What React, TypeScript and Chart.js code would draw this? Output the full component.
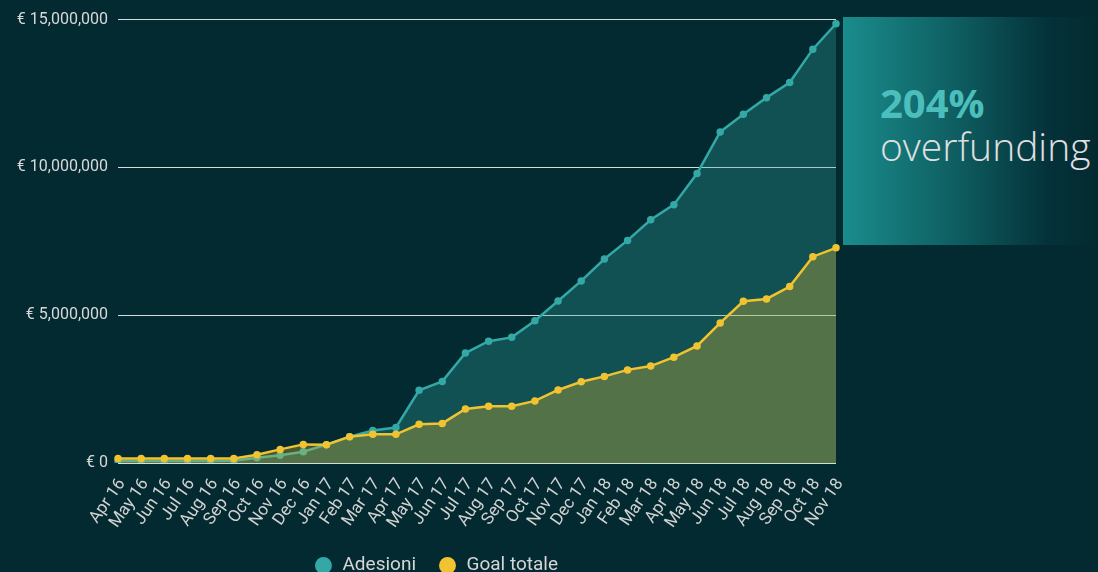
import React, { useEffect, useRef } from "react";
import { Chart, registerables } from "chart.js";

Chart.register(...registerables);

const labels = ["Apr 16","May 16","Jun 16","Jul 16","Aug 16","Sep 16","Oct 16","Nov 16","Dec 16","Jan 17","Feb 17","Mar 17","Apr 17","May 17","Jun 17","Jul 17","Aug 17","Sep 17","Oct 17","Nov 17","Dec 17","Jan 18","Feb 18","Mar 18","Apr 18","May 18","Jun 18","Jul 18","Aug 18","Sep 18","Oct 18","Nov 18"];

const adesioni = [70000,70000,70000,70000,70000,80000,180000,260000,380000,620000,890000,1100000,1200000,2460000,2760000,3720000,4120000,4250000,4810000,5480000,6160000,6900000,7530000,8230000,8740000,9790000,11200000,11800000,12360000,12870000,14000000,14860000];

const goalTotale = [150000,150000,150000,150000,150000,150000,280000,460000,630000,620000,890000,970000,970000,1310000,1340000,1830000,1920000,1920000,2100000,2470000,2750000,2930000,3150000,3280000,3580000,3960000,4740000,5470000,5550000,5970000,6980000,7280000];

const yTicks = [0, 5000000, 10000000, 15000000];

const TEAL = "#33a8a6";
const YELLOW = "#f2c330";
const BG = "#032a30";

export default function App() {
  const ref = useRef<HTMLCanvasElement>(null);
  useEffect(() => {
    document.body.style.margin = "0";
    const chart = new Chart(ref.current!, {
      type: "line",
      data: {
        labels,
        datasets: [
          {
            label: "Adesioni",
            data: adesioni,
            borderColor: TEAL,
            backgroundColor: "rgba(51,168,166,0.3)",
            pointBackgroundColor: TEAL,
            pointBorderColor: TEAL,
            borderWidth: 2.5,
            pointRadius: 2.5,
            fill: "origin",
            tension: 0,
            order: 1,
          },
          {
            label: "Goal totale",
            data: goalTotale,
            borderColor: YELLOW,
            backgroundColor: "rgba(242,195,48,0.3)",
            pointBackgroundColor: YELLOW,
            pointBorderColor: YELLOW,
            borderWidth: 2.5,
            pointRadius: 2.5,
            fill: "origin",
            tension: 0,
            order: 0,
          },
        ],
      },
      options: {
        animation: false,
        responsive: false,
        maintainAspectRatio: false,
        layout: { padding: { top: 19, left: 0, right: 0, bottom: 0 } },
        plugins: {
          tooltip: { enabled: false },
          legend: {
            position: "bottom",
            labels: {
              color: "#d6d6d6",
              font: { family: "Roboto", size: 19 },
              usePointStyle: true,
              pointStyle: "circle",
              boxWidth: 24,
              boxHeight: 12,
              padding: 22,
              generateLabels: (c: any) =>
                c.data.datasets.map((d: any, i: number) => ({
                  text: d.label,
                  fillStyle: d.borderColor,
                  strokeStyle: d.borderColor,
                  lineWidth: 0,
                  pointStyle: "circle",
                  fontColor: "#d6d6d6",
                  datasetIndex: i,
                  hidden: false,
                })),
            },
          },
        },
        scales: {
          x: {
            grid: { display: false, drawTicks: false },
            border: { display: false },
            offset: false,
            ticks: {
              color: "#d2d2d2",
              font: { family: "Roboto", size: 17 },
              minRotation: 55,
              maxRotation: 55,
              autoSkip: false,
              padding: 12,
              labelOffset: 4,
            },
            afterFit: (s: any) => {
              s.height = 71;
              s.paddingRight = 36;
            },
          },
          y: {
            min: 0,
            max: 15000000,
            afterBuildTicks: (s: any) => {
              s.ticks = yTicks.map((v) => ({ value: v }));
            },
            grid: { color: "#d4dcdc", lineWidth: 1, drawTicks: false },
            border: { display: false },
            ticks: {
              color: "#d8d8d8",
              font: { family: "Roboto", size: 16 },
              padding: 10,
              callback: (v: any) => "€ " + Number(v).toLocaleString("en-US"),
            },
            afterFit: (s: any) => {
              s.width = 118;
            },
          },
        },
      },
    });
    return () => chart.destroy();
  }, []);

  return (
    <div style={{ position: "fixed", left: 0, top: 0, width: 1098, height: 572, overflow: "hidden", background: BG }}>
      <div style={{ position: "absolute", left: 0, top: 0, width: 872, height: 585 }}>
        <canvas ref={ref} width={872} height={585} style={{ width: 872, height: 585 }} />
      </div>
      <div
        style={{
          position: "absolute",
          left: 843,
          top: 17,
          width: 255,
          height: 228,
          background: "linear-gradient(to right, #1a8c8c 0%, #0e5d60 45%, #04323a 80%, #032a30 100%)",
        }}
      >
        <div
          style={{
            position: "absolute",
            left: 37,
            top: 66,
            fontFamily: "'Open Sans'",
            fontWeight: 700,
            fontSize: 40,
            lineHeight: "40px",
            color: "#4cbfbd",
            whiteSpace: "nowrap",
          }}
        >
          204%
        </div>
        <div
          style={{
            position: "absolute",
            left: 37,
            top: 107,
            fontFamily: "'Open Sans'",
            fontWeight: 300,
            fontSize: 39,
            lineHeight: "44px",
            color: "#e0e0e0",
            whiteSpace: "nowrap",
          }}
        >
          overfunding
        </div>
      </div>
    </div>
  );
}
